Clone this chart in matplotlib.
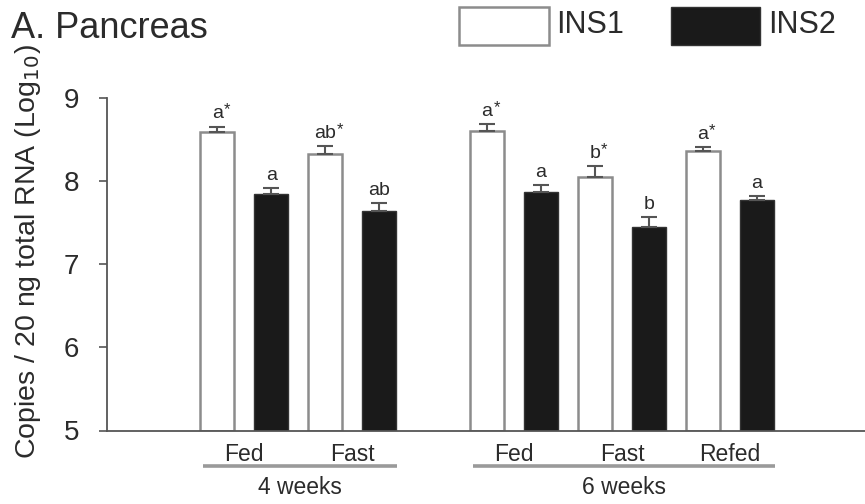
import matplotlib
matplotlib.use("Agg")
import matplotlib.pyplot as plt
from matplotlib.patches import Rectangle
import matplotlib.transforms as mtransforms
import numpy as np

plt.rcParams['font.family'] = ['Liberation Sans', 'DejaVu Sans']

# ---------------- data ----------------
conditions = ['Fed', 'Fast', 'Fed', 'Fast', 'Refed']
group_names = ['4 weeks', '6 weeks']
group_members = [[0, 1], [2, 3, 4]]
cond_pos = [0.5, 2.5, 5.5, 7.5, 9.5]

ins1 = [8.59, 8.32, 8.60, 8.05, 8.36]
ins1_err = [0.06, 0.10, 0.08, 0.13, 0.04]
ins2 = [7.84, 7.64, 7.87, 7.45, 7.77]
ins2_err = [0.07, 0.09, 0.08, 0.11, 0.05]
ins1_letters = ['a', 'ab', 'a', 'b', 'a']
ins1_star = [True, True, True, True, True]
ins2_letters = ['a', 'ab', 'a', 'b', 'a']

series_names = ['INS1', 'INS2']
yticks = [5, 6, 7, 8, 9]
ylabel = 'Copies / 20 ng total RNA (Log$_{10}$)'
title = 'A. Pancreas'

# ---------------- style ----------------
W, H = 865, 504
fig = plt.figure(figsize=(W / 100, H / 100), dpi=100)
ax = fig.add_axes([107 / W, 73.5 / H, 1 - 107 / W, 333 / H])

txt = '#2b2b2b'
spine_c = '#555555'
white_edge = '#8c8c8c'
black_fill = '#1a1a1a'
bw = 0.63

pos = np.array(cond_pos)
x1 = pos - 0.5
x2 = pos + 0.5

ax.bar(x1, np.array(ins1) - 5, bottom=5, width=bw, color='white',
       edgecolor=white_edge, linewidth=1.8, zorder=2)
ax.bar(x2, np.array(ins2) - 5, bottom=5, width=bw, color=black_fill,
       edgecolor='#333333', linewidth=1.0, zorder=2)

z1 = np.zeros(len(ins1))
ax.errorbar(x1, ins1, yerr=[z1, ins1_err], fmt='none', ecolor='#555555',
            elinewidth=1.5, capsize=5.8, capthick=1.5, zorder=3, clip_on=False)
ax.errorbar(x2, ins2, yerr=[z1, ins2_err], fmt='none', ecolor='#555555',
            elinewidth=1.5, capsize=5.8, capthick=1.5, zorder=3, clip_on=False)

ax.set_xlim(-2.04, 12.0)
ax.set_ylim(5, 9)
ax.set_yticks(yticks)
ax.set_yticklabels([str(t) for t in yticks])
ax.tick_params(axis='y', direction='out', length=6, width=1.2, color=spine_c,
               labelsize=20, labelcolor=txt, pad=14)
ax.set_xticks(pos)
ax.set_xticklabels(conditions)
ax.tick_params(axis='x', length=0, labelsize=16.5, labelcolor=txt, pad=9)

for s in ['top', 'right']:
    ax.spines[s].set_visible(False)
for s in ['left', 'bottom']:
    ax.spines[s].set_color(spine_c)
    ax.spines[s].set_linewidth(1.3)

fig.text(28 / W, 1 - 252 / H, ylabel, rotation=90, ha='center', va='center',
         fontsize=20.5, color=txt)

# significance letters
letter_objs = []
for xs, vals, errs, letters, stars in [
        (x1, ins1, ins1_err, ins1_letters, ins1_star),
        (x2, ins2, ins2_err, ins2_letters, [False] * len(ins2))]:
    for x, v, e, l, st in zip(xs, vals, errs, letters, stars):
        t = ax.annotate(l, (x, v + e), xytext=(0, 3), textcoords='offset points',
                        ha='center', va='bottom', fontsize=14, color=txt,
                        clip_on=False)
        letter_objs.append((t, st, x, v + e))

fig.canvas.draw()
renderer = fig.canvas.get_renderer()
for t, st, x, top in letter_objs:
    if st:
        bb = t.get_window_extent(renderer)
        halfw = bb.width / 2 * 72 / fig.dpi
        ax.annotate('*', (x, top), xytext=(halfw + 0.5, 6.5),
                    textcoords='offset points', ha='left', va='bottom',
                    fontsize=12, color=txt, clip_on=False)

# group lines and labels
blend = mtransforms.blended_transform_factory(ax.transData, ax.transAxes)
for name, members in zip(group_names, group_members):
    left = x1[members[0]] - bw / 2 + 0.05
    right = x2[members[-1]] + bw / 2 + 0.02
    ax.plot([left, right], [-0.108, -0.108], transform=blend, color='#9a9a9a',
            linewidth=2.6, clip_on=False, solid_capstyle='butt')
    ax.text((left + right) / 2, -0.17, name, transform=blend, ha='center',
            va='center', fontsize=16.5, color=txt)

# title
fig.text(11 / W, 1 - 38 / H, title, fontsize=26, color=txt, ha='left',
         va='baseline')

# legend
fig.add_artist(Rectangle((459 / W, 1 - 45 / H), 90 / W, 38 / H,
                         transform=fig.transFigure, facecolor='white',
                         edgecolor='#8c8c8c', linewidth=1.8))
fig.text(556 / W, 1 - 25 / H, series_names[0], fontsize=22, color=txt,
         ha='left', va='center')
fig.add_artist(Rectangle((671 / W, 1 - 45 / H), 89 / W, 38 / H,
                         transform=fig.transFigure, facecolor=black_fill,
                         edgecolor='#333333', linewidth=1.0))
fig.text(768 / W, 1 - 25 / H, series_names[1], fontsize=22, color=txt,
         ha='left', va='center')

fig.savefig('out.png', dpi=100)
